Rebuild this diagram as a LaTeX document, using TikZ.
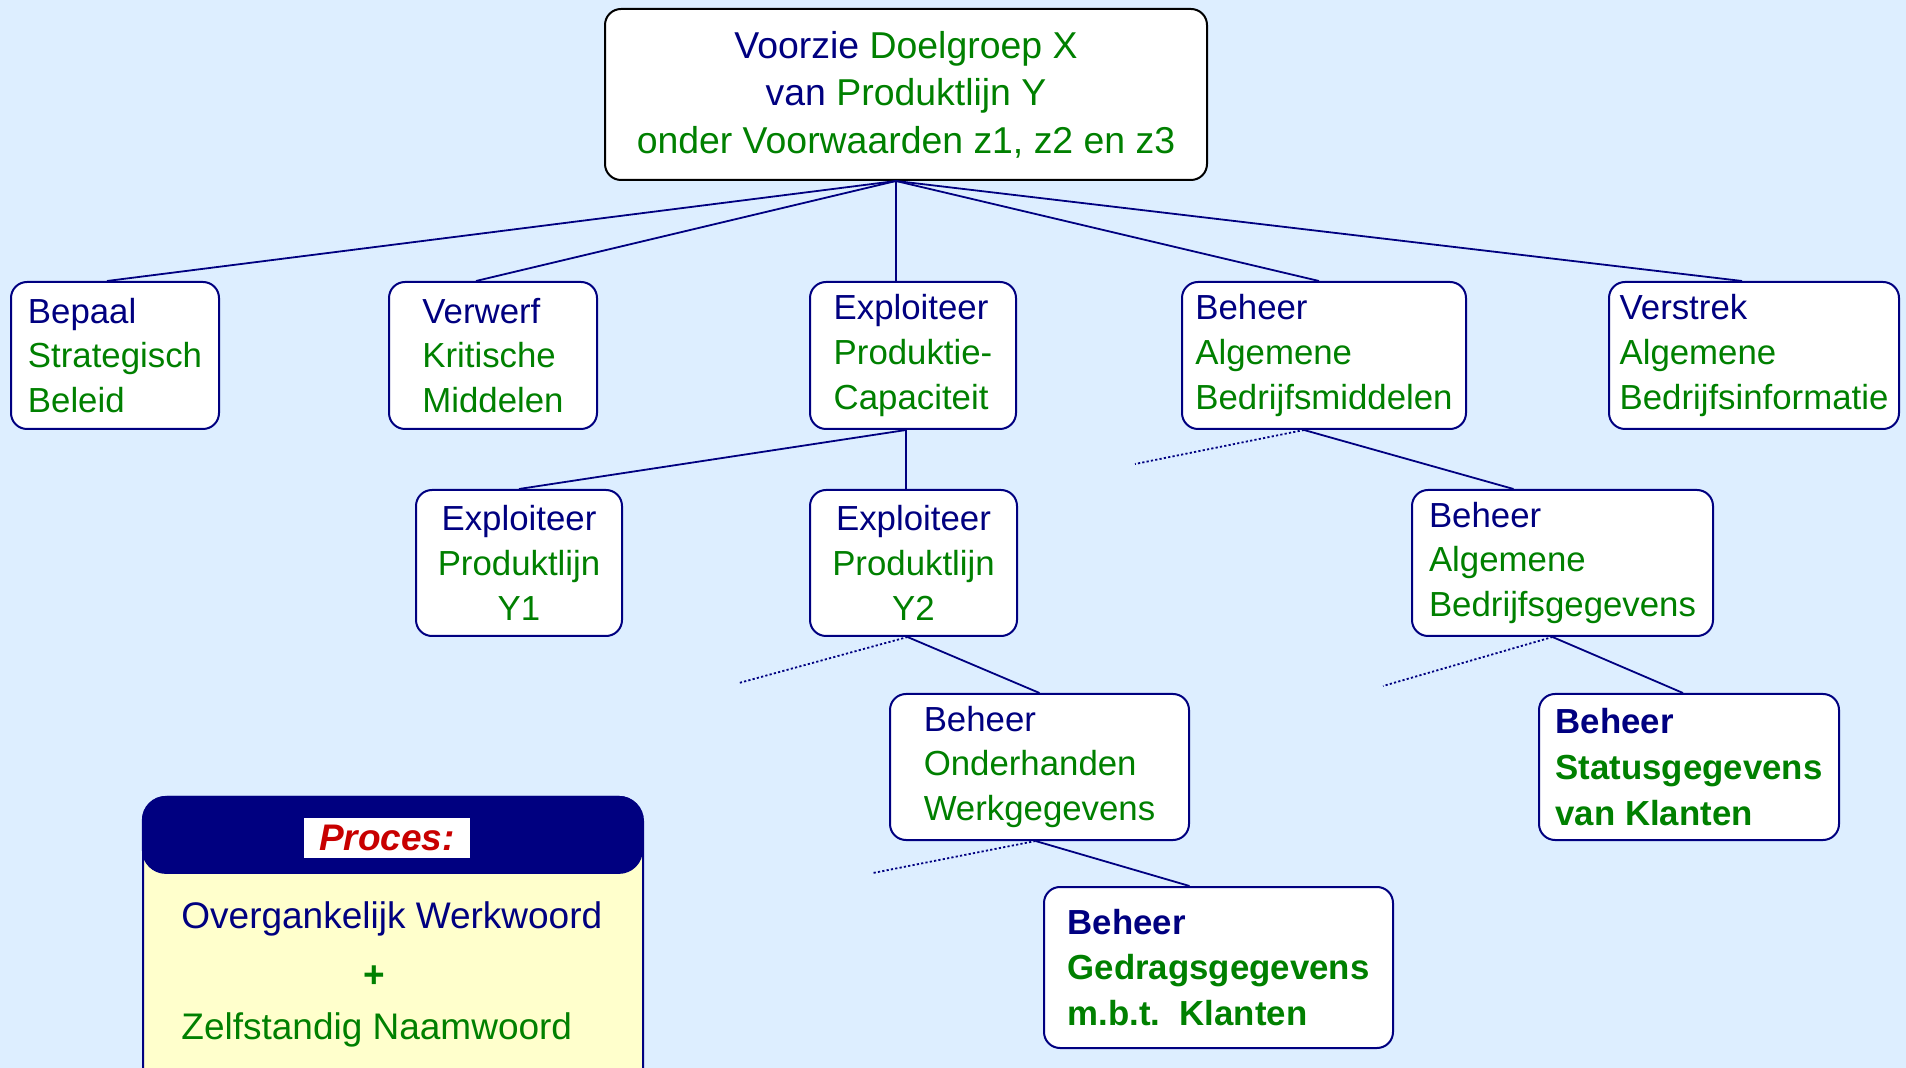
\documentclass[tikz,border=0pt]{standalone}
\usepackage[svgnames]{xcolor}
\usepackage{fontspec}
\setmainfont{Liberation Sans}
\usepackage{tikz}
\usetikzlibrary{positioning, backgrounds}
\definecolor{skyback}{RGB}{221,238,255}
\definecolor{noteyellow}{RGB}{255,255,204}
\definecolor{procred}{RGB}{200,0,0}
\newcommand{\vb}[1]{\textcolor{Navy}{#1}}
\newcommand{\nw}[1]{\textcolor{Green}{#1}}

\begin{document}
\begin{tikzpicture}[x=0.5pt,y=-0.5pt,
        box/.style={draw=Navy, line width=1pt, fill=white, rounded corners=8pt, align=left, inner sep=0pt, font=\fontsize{17.4}{22.4}\selectfont},
        link/.style={draw=Navy, line width=0.9pt},
        loose/.style={draw=Navy, line width=0.9pt, dash pattern=on 1.1pt off 1.1pt}]
        \fill[skyback] (0,0) rectangle (1906,1068);
        \useasboundingbox (0,0) rectangle (1906,1068);

        \node[box, draw=black, align=center, minimum width=301pt, minimum height=85.5pt, font=\fontsize{18.7}{23.7}\selectfont] (top) at (906,94.5)
            {\vb{Voorzie} \nw{Doelgroep X}\\ \vb{van} \nw{Produktlijn Y}\\ \nw{onder Voorwaarden z1, z2 en z3}};

        % eerste niveau
        \node[box, minimum width=104pt, minimum height=73.5pt] (bepaal) at (115,355.5) {\vb{Bepaal}\\ \nw{Strategisch}\\ \nw{Beleid}};
        \node[box, minimum width=104pt, minimum height=73.5pt] (verwerf) at (493,355.5) {\vb{Verwerf}\\ \nw{Kritische}\\ \nw{Middelen}};
        \node[box, minimum width=103pt, minimum height=73.5pt] (prodcap) at (913,355.5) {\vb{Exploiteer}\\ \nw{Produktie-}\\ \nw{Capaciteit}};
        \node[box, minimum width=142pt, minimum height=73.5pt] (bam) at (1324,355.5) {\vb{Beheer}\\ \nw{Algemene}\\ \nw{Bedrijfsmiddelen}};
        \node[box, minimum width=145pt, minimum height=73.5pt] (verstrek) at (1754,355.5) {\vb{Verstrek}\\ \nw{Algemene}\\ \nw{Bedrijfsinformatie}};

        % tweede niveau
        \node[box, align=center, minimum width=103pt, minimum height=73pt] (y1) at (519,563) {\vb{Exploiteer}\\ \nw{Produktlijn}\\ \nw{Y1}};
        \node[box, align=center, minimum width=103.5pt, minimum height=73pt] (y2) at (913.5,563) {\vb{Exploiteer}\\ \nw{Produktlijn}\\ \nw{Y2}};
        \node[box, minimum width=150.5pt, minimum height=73pt] (bag) at (1562.5,563) {\vb{Beheer}\\ \nw{Algemene}\\ \nw{Bedrijfsgegevens}};

        % derde en vierde niveau
        \node[box, minimum width=149.5pt, minimum height=73pt] (ohw) at (1039.5,767) {\vb{Beheer}\\ \nw{Onderhanden}\\ \nw{Werkgegevens}};
        \node[box, minimum width=150pt, minimum height=73pt, font=\bfseries\fontsize{17.4}{22.8}\selectfont] (svk) at (1689,767) {\vb{Beheer}\\ \nw{Statusgegevens}\\ \nw{van Klanten}};
        \node[box, minimum width=174.5pt, minimum height=80.5pt, font=\bfseries\fontsize{17.4}{22.8}\selectfont] (gmk) at (1218.5,967.5) {\vb{Beheer}\\ \nw{Gedragsgegevens}\\ \nw{m.b.t.\ \ Klanten}};

        % aanhechtpunten
        \coordinate (hub) at ([xshift=-5pt]top.south);
        \coordinate (prodfoot) at ([xshift=-3.5pt]prodcap.south);
        \coordinate (bamfoot) at ([xshift=-10pt]bam.south);
        \coordinate (y2foot) at ([xshift=-3pt]y2.south);
        \coordinate (bagfoot) at ([xshift=-5pt]bag.south);
        \coordinate (ohwfoot) at ([xshift=-2pt]ohw.south);
        \coordinate (bamloose) at (1135,464);
        \coordinate (y2loose) at (739,683);
        \coordinate (bagloose) at (1383,686);
        \coordinate (ohwloose) at (873,873);

        \path[link]
        (hub) edge ([xshift=-4pt]bepaal.north)
        (hub) edge ([xshift=-8.5pt]verwerf.north)
        (hub) edge (prodcap.north -| hub)
        (hub) edge ([xshift=-2.5pt]bam.north)
        (hub) edge ([xshift=-6pt]verstrek.north)
        (prodfoot) edge (y1.north)
        (prodfoot) edge (y2.north -| prodfoot)
        (bamfoot) edge ([xshift=-24.5pt]bag.north)
        (y2foot) edge (ohw.north)
        (bagfoot) edge ([xshift=-3pt]svk.north)
        (ohwfoot) edge ([xshift=-14.5pt]gmk.north);
        \path[loose]
        (bamfoot) edge (bamloose)
        (y2foot) edge (y2loose)
        (bagfoot) edge (bagloose)
        (ohwfoot) edge (ohwloose);

        % legenda
        \node[draw=Navy, line width=1pt, fill=noteyellow, rounded corners=12pt, minimum width=250pt, minimum height=150pt, anchor=north west, inner sep=0pt] (legend) at (142,796) {};
        \node[fill=Navy, rounded corners=12pt, minimum width=250.5pt, minimum height=39pt, anchor=north west, inner sep=0pt] (legendhead) at (141.5,795.5) {};
        \node[fill=white, text=procred, minimum width=83pt, minimum height=20pt, inner sep=0pt, font=\bfseries\itshape\fontsize{18.5}{20}\selectfont] (proces) at (387,838) {Proces:};
        \node[anchor=west, inner sep=0pt, text=Navy, font=\fontsize{18.5}{20}\selectfont] (werkwoord) at (181,919) {Overgankelijk Werkwoord};
        \node[inner sep=0pt, text=Green, font=\bfseries\fontsize{18.5}{20}\selectfont] (plus) at (374,977) {+};
        \node[anchor=west, inner sep=0pt, text=Green, font=\fontsize{18.5}{20}\selectfont] (naamwoord) at (181,1030) {Zelfstandig Naamwoord};
    \end{tikzpicture}
\end{document}
